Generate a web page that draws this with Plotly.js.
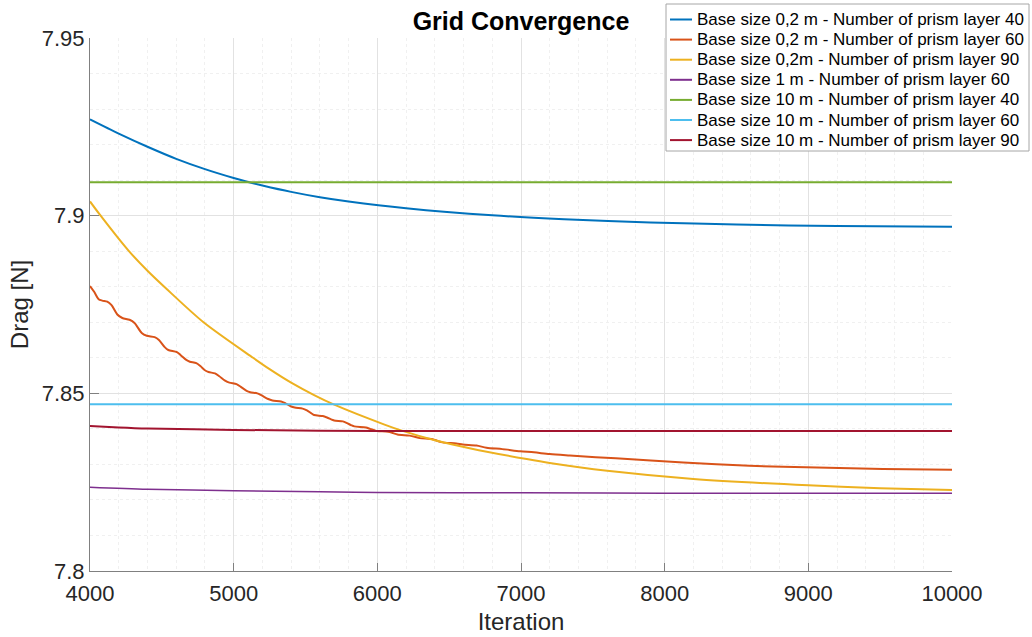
<!DOCTYPE html>
<html>
<head>
<meta charset="utf-8">
<script src="https://cdn.plot.ly/plotly-3.0.1.min.js"></script>
<style>html,body{margin:0;padding:0;background:#fff;}#chart{width:1032px;height:637px;}</style>
</head>
<body>
<div id="chart"></div>
<script>
// Series names
const seriesNames = [
  "Base size 0,2 m - Number of prism layer 40",
  "Base size 0,2 m - Number of prism layer 60",
  "Base size 0,2m - Number of prism layer 90",
  "Base size 1 m - Number of prism layer 60",
  "Base size 10 m - Number of prism layer 40",
  "Base size 10 m - Number of prism layer 60",
  "Base size 10 m - Number of prism layer 90"
];
const seriesColors = ["#0072BD", "#D95319", "#EDB120", "#7E2F8E", "#77AC30", "#4DBEEE", "#A2142F"];

// Base 0.2 m, 40 layers
const blueIter = [4000, 4200, 4400, 4600, 4800, 5000, 5100, 5200, 5400, 5600, 5800, 6200, 6800, 7300, 7900, 8500, 9200, 10000];
const blueDrag = [7.9271, 7.9231, 7.9194, 7.9160, 7.9131, 7.9106, 7.9095, 7.9085, 7.9067, 7.9052, 7.9040, 7.9021, 7.9001, 7.8990, 7.8981, 7.8975, 7.8971, 7.8969];

// Base 0.2 m, 60 layers (wavy)
const orangeIter = [4000, 4030, 4060, 4085, 4120, 4150, 4190, 4225, 4275, 4310, 4360, 4395, 4450, 4480, 4520, 4545, 4605, 4635, 4670, 4695, 4740, 4770, 4800, 4825, 4870, 4900, 4940, 4970, 5020, 5050, 5090, 5115, 5165, 5195, 5240, 5270, 5330, 5360, 5400, 5425, 5480, 5510, 5540, 5560, 5620, 5650, 5690, 5710, 5760, 5790, 5820, 5840, 5920, 5950, 5980, 6000, 6075, 6110, 6140, 6225, 6260, 6295, 6385, 6420, 6455, 6550, 6595, 6690, 6760, 6870, 6995, 7090, 7200, 7340, 7660, 8130, 8590, 9060, 9520, 10000];
const orangeDrag = [7.8802, 7.8785, 7.8765, 7.8761, 7.8758, 7.8748, 7.8722, 7.8712, 7.8707, 7.8698, 7.8670, 7.8662, 7.8658, 7.8650, 7.8630, 7.8622, 7.8616, 7.8606, 7.8594, 7.8589, 7.8585, 7.8576, 7.8565, 7.8560, 7.8556, 7.8548, 7.8536, 7.8530, 7.8526, 7.8518, 7.8507, 7.8503, 7.8500, 7.8494, 7.8484, 7.8480, 7.8477, 7.8472, 7.8463, 7.8460, 7.8457, 7.8452, 7.8444, 7.8439, 7.8436, 7.8432, 7.8425, 7.8423, 7.8421, 7.8416, 7.8410, 7.8407, 7.8404, 7.8400, 7.8396, 7.8394, 7.8392, 7.8388, 7.8384, 7.8381, 7.8378, 7.8374, 7.8371, 7.8366, 7.8362, 7.8359, 7.8356, 7.8353, 7.8347, 7.8343, 7.8337, 7.8334, 7.8329, 7.8325, 7.8317, 7.8305, 7.8296, 7.8291, 7.8287, 7.8285];

// Base 0.2 m, 90 layers
const yellowIter = [4000, 4070, 4265, 4400, 4530, 4790, 5135, 5250, 5400, 5560, 5700, 6050, 6170, 6400, 6650, 7040, 7200, 7600, 8200, 9000, 9500, 10000];
const yellowDrag = [7.9040, 7.9002, 7.8903, 7.8845, 7.8795, 7.8700, 7.8600, 7.8568, 7.8530, 7.8495, 7.8468, 7.8412, 7.8395, 7.8368, 7.8345, 7.8315, 7.8304, 7.8282, 7.8259, 7.8241, 7.8233, 7.8228];

// Base 1 m, 60 layers
const purpleIter = [4000, 4400, 5000, 5600, 6000, 7000, 8000, 10000];
const purpleDrag = [7.8236, 7.8230, 7.8226, 7.8223, 7.8221, 7.8220, 7.8219, 7.8219];

// Base 10 m, 40 layers
const greenIter = [4000, 10000];
const greenDrag = [7.9094, 7.9094];

// Base 10 m, 60 layers
const cyanIter = [4000, 10000];
const cyanDrag = [7.8469, 7.8469];

// Base 10 m, 90 layers
const redIter = [4000, 4200, 4400, 5000, 5600, 6000, 10000];
const redDrag = [7.8408, 7.8404, 7.8401, 7.8397, 7.8395, 7.8394, 7.8394];

// Tick labels
const xTickVals = [4000, 5000, 6000, 7000, 8000, 9000, 10000];
const xTickText = ["4000", "5000", "6000", "7000", "8000", "9000", "10000"];
const yTickVals = [7.8, 7.85, 7.9, 7.95];
const yTickText = ["7.8", "7.85", "7.9", "7.95"];

const xs = [blueIter, orangeIter, yellowIter, purpleIter, greenIter, cyanIter, redIter];
const ys = [blueDrag, orangeDrag, yellowDrag, purpleDrag, greenDrag, cyanDrag, redDrag];
const widths = [2, 2, 2, 1.5, 2, 2, 2];

const traces = seriesNames.map((n, i) => ({
  type: "scatter",
  mode: "lines",
  name: n,
  x: xs[i],
  y: ys[i],
  showlegend: false,
  line: {color: seriesColors[i], width: widths[i], shape: "spline", smoothing: 0.8}
}));

const FONT = "Liberation Sans, Arial, Helvetica, sans-serif";

// Legend box (paper coordinates, drawn to mimic the MATLAB legend)
const W = 1032, H = 637, ML = 90, MR = 80, MT = 38, MB = 66;
const PW = W - ML - MR, PH = H - MT - MB;
const px2x = p => (p - ML) / PW;
const py2y = p => (H - MB - p) / PH;
const legBox = {x0: 666, x1: 1029, y0: 4, y1: 151};
const legRowTop = 19.5, legRowStep = 20.1;

const shapes = [{
  type: "rect", xref: "paper", yref: "paper",
  x0: px2x(legBox.x0), x1: px2x(legBox.x1), y0: py2y(legBox.y1), y1: py2y(legBox.y0),
  line: {color: "#a6a6a6", width: 1}, fillcolor: "#ffffff", layer: "above"
}];
const annotations = [];
seriesNames.forEach((n, i) => {
  const cy = legRowTop + i * legRowStep;
  shapes.push({
    type: "line", xref: "paper", yref: "paper",
    x0: px2x(670), x1: px2x(692), y0: py2y(cy), y1: py2y(cy),
    line: {color: seriesColors[i], width: 2}, layer: "above"
  });
  annotations.push({
    xref: "paper", yref: "paper", x: px2x(695), y: py2y(cy),
    xanchor: "left", yanchor: "middle", showarrow: false,
    text: n, font: {family: FONT, size: 17, color: "#000000"}
  });
});

const layout = {
  width: W,
  height: H,
  margin: {l: ML, r: MR, t: MT, b: MB, pad: 0},
  paper_bgcolor: "#ffffff",
  plot_bgcolor: "#ffffff",
  font: {family: FONT, color: "#262626"},
  title: {
    text: "<b>Grid Convergence</b>",
    font: {family: FONT, size: 25, color: "#000000"},
    xref: "paper", x: 0.5, xanchor: "center",
    yref: "container", y: 0.966, yanchor: "middle"
  },
  showlegend: false,
  shapes: shapes,
  annotations: annotations,
  xaxis: {
    range: [4000, 10000],
    tickvals: xTickVals, ticktext: xTickText,
    tickfont: {family: FONT, size: 22, color: "#262626"},
    ticks: "inside", ticklen: 8, tickcolor: "#808080",
    ticklabelstandoff: 3,
    showline: true, linecolor: "#808080", linewidth: 1, mirror: false,
    showgrid: true, gridcolor: "#e2e2e2", gridwidth: 1,
    zeroline: false,
    minor: {dtick: 200, showgrid: true, gridcolor: "#f0f0f0", griddash: "dot", ticks: ""},
    title: {text: "Iteration", font: {family: FONT, size: 24, color: "#262626"}, standoff: 7}
  },
  yaxis: {
    range: [7.8, 7.95],
    tickvals: yTickVals, ticktext: yTickText,
    tickfont: {family: FONT, size: 22, color: "#262626"},
    ticks: "inside", ticklen: 9, tickcolor: "#808080",
    showline: true, linecolor: "#808080", linewidth: 1, mirror: false,
    showgrid: true, gridcolor: "#e2e2e2", gridwidth: 1,
    zeroline: false,
    minor: {dtick: 0.01, showgrid: true, gridcolor: "#f0f0f0", griddash: "dot", ticks: ""},
    title: {text: "Drag [N]", font: {family: FONT, size: 24, color: "#262626"}, standoff: 6}
  }
};

Plotly.newPlot("chart", traces, layout, {displayModeBar: false, staticPlot: true});
</script>
</body>
</html>
